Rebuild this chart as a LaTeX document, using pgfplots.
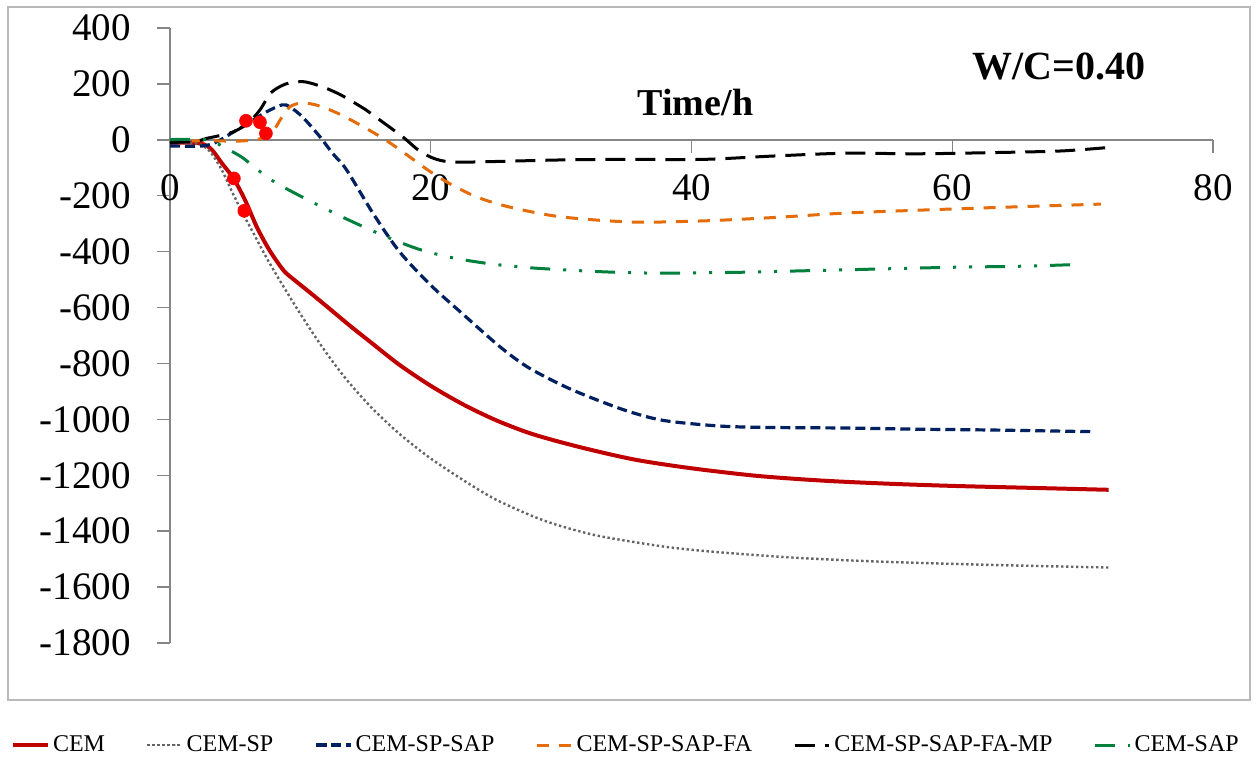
\documentclass[border=0pt]{standalone}
\usepackage{fontspec}
\setmainfont{Liberation Serif}
\usepackage{pgfplots}
\pgfplotsset{compat=1.18}
\definecolor{cemred}{RGB}{192,0,0}
\definecolor{spgray}{RGB}{100,100,100}
\definecolor{sapnavy}{RGB}{0,32,96}
\definecolor{faorange}{RGB}{228,108,10}
\definecolor{sapgreen}{RGB}{0,128,60}
\definecolor{axisgray}{RGB}{134,134,134}
\definecolor{framegray}{RGB}{185,185,185}
\begin{document}
\begin{tikzpicture}
\useasboundingbox (-85pt,-60.5pt) rectangle (544pt,321.5pt);
\draw[framegray, line width=1pt] (-81pt,-28.5pt) rectangle (540pt,318pt);
\begin{axis}[
  scale only axis, width=521.5pt, height=307.5pt,
  xmin=0, xmax=80, ymin=-1800, ymax=400,
  axis x line=middle, axis y line=left,
  axis line style={axisgray, line width=0.75pt, -},
  xtick={0,20,40,60,80}, ytick={-1800,-1600,...,400},
  tick align=outside, major tick length=6.5pt,
  tick style={axisgray, line width=0.75pt},
  hide obscured x ticks=false, hide obscured y ticks=false,
  /pgf/number format/assume math mode=true,
  /pgf/number format/1000 sep={},
  ticklabel style={font=\fontsize{19.5}{22}\selectfont, text=black},
  xticklabel style={yshift=-7.5pt},
  yticklabel style={xshift=-9.5pt},
  legend style={at={(rel axis cs:0.438,-0.166)}, anchor=center, draw=none, fill=none,
    legend columns=6, font=\fontsize{12}{14}\selectfont,
    /tikz/every even column/.append style={column sep=18.5pt}},
  every axis plot/.append style={smooth, tension=0.5},
]
\addplot[cemred, line width=2pt] coordinates {
(0,-10) (1.5,-10) (2.5,-15) (3.2,-35) (4,-85) (4.9,-140) (5.8,-220) (6.65,-311)
(7.5,-385) (8.2,-435) (8.8,-472) (9.5,-500) (10.7,-545) (12,-595) (13.8,-665)
(15.5,-728) (17.6,-805) (20,-880) (22.5,-947) (25,-1003) (27.5,-1048) (30,-1082)
(33,-1117) (36,-1147) (40,-1175) (45,-1202) (50,-1219) (55,-1230) (60,-1238)
(66,-1245) (72,-1252)};
\addlegendentry{CEM}
\addplot[spgray, line width=1.2pt, dash pattern=on 1.2pt off 1.3pt] coordinates {
(0,-10) (1.5,-10) (2.5,-20) (3.2,-50) (4,-110) (4.8,-190) (5.6,-265) (6.4,-334)
(7.5,-430) (8.9,-540) (10.1,-630) (11.25,-712) (12.5,-795) (13.8,-872) (15.5,-960)
(17.6,-1052) (20,-1140) (22.75,-1225) (25,-1287) (27.9,-1348) (30,-1382) (33,-1418)
(38,-1456) (42,-1475) (46.3,-1490) (50,-1500) (54.5,-1509) (60,-1517) (65,-1523)
(72,-1530)};
\addlegendentry{CEM-SP}
\addplot[sapnavy, line width=1.6pt, dash pattern=on 5pt off 2.5pt] coordinates {
(0,-22) (2.5,-22) (3.6,-7) (4.9,29) (6,60) (7.4,100) (8.6,125) (9.2,118) (10.2,80)
(11.5,11) (12.5,-50) (13.55,-108) (15.6,-265) (17.6,-400) (20,-520) (22.5,-625)
(25.3,-740) (27.5,-815) (30.4,-885) (33,-935) (35.4,-975) (38,-1005) (42.2,-1024)
(46,-1029) (51.8,-1031) (57,-1035) (62.8,-1038) (70.7,-1044)};
\addlegendentry{CEM-SP-SAP}
\addplot[faorange, line width=1.5pt, dash pattern=on 6pt off 5pt] coordinates {
(0,-5) (3,-3) (5,-5) (6.5,0) (7.3,10) (7.9,29) (8.5,75) (9.2,118) (10,131) (11,127)
(12,112) (13,92) (14,68) (15,42) (16,15) (17,-15) (18,-48) (19,-82) (20,-115)
(21.5,-158) (23.5,-204) (26,-240) (29.9,-275) (35.4,-294) (40.9,-290) (46.3,-278)
(51.8,-262) (57.3,-252) (62.8,-243) (71.4,-230)};
\addlegendentry{CEM-SP-SAP-FA}
\addplot[black, line width=1.5pt, dash pattern=on 10pt off 5pt] coordinates {
(0,-10) (2,-5) (2.8,5) (3.8,15) (4.9,29) (6,60) (6.9,107) (7.7,166) (8.5,192)
(9.2,204) (10.2,208) (11,200) (12,184) (13,163) (13.8,142) (15,108) (16,74) (17,40)
(18,5) (19,-35) (20,-62) (21,-76) (22.5,-80) (30,-72) (35,-70) (40.9,-70) (46.3,-58)
(51.8,-48) (57.3,-50) (62.8,-46) (68.3,-40) (72.1,-27)};
\addlegendentry{CEM-SP-SAP-FA-MP}
\addplot[sapgreen, line width=1.5pt, dash pattern=on 10pt off 6.5pt on 1.5pt off 6.5pt on 1.5pt off 6.5pt] coordinates {
(0,0) (1,2) (3,0) (3.5,-10) (4.5,-35) (5.6,-65) (6.8,-110) (8.2,-156) (10.7,-218)
(13.3,-278) (15.9,-333) (18.1,-375) (19.7,-400) (22,-425) (24.8,-445) (28,-459)
(32.2,-470) (35,-475) (38.1,-477) (43.6,-474) (49.1,-468) (54.5,-462) (60,-456)
(65.5,-452) (69.6,-446)};
\addlegendentry{CEM-SAP}
\addplot[only marks, mark=*, mark size=3.2pt, color=red, forget plot] coordinates {
(5.83,68) (6.9,63) (7.36,23) (4.9,-138) (5.7,-254)};
\node[font=\bfseries\fontsize{19}{22}\selectfont] at (axis cs:40.3,135) {Time/h};
\node[font=\bfseries\fontsize{20}{24}\selectfont] at (axis cs:68.2,264) {W/C=0.40};
\node[rotate=90, font=\bfseries\fontsize{18}{20}\selectfont] at (rel axis cs:-0.1246,0.4976) {Shrinkage (μm/m)};
\end{axis}
\end{tikzpicture}
\end{document}
